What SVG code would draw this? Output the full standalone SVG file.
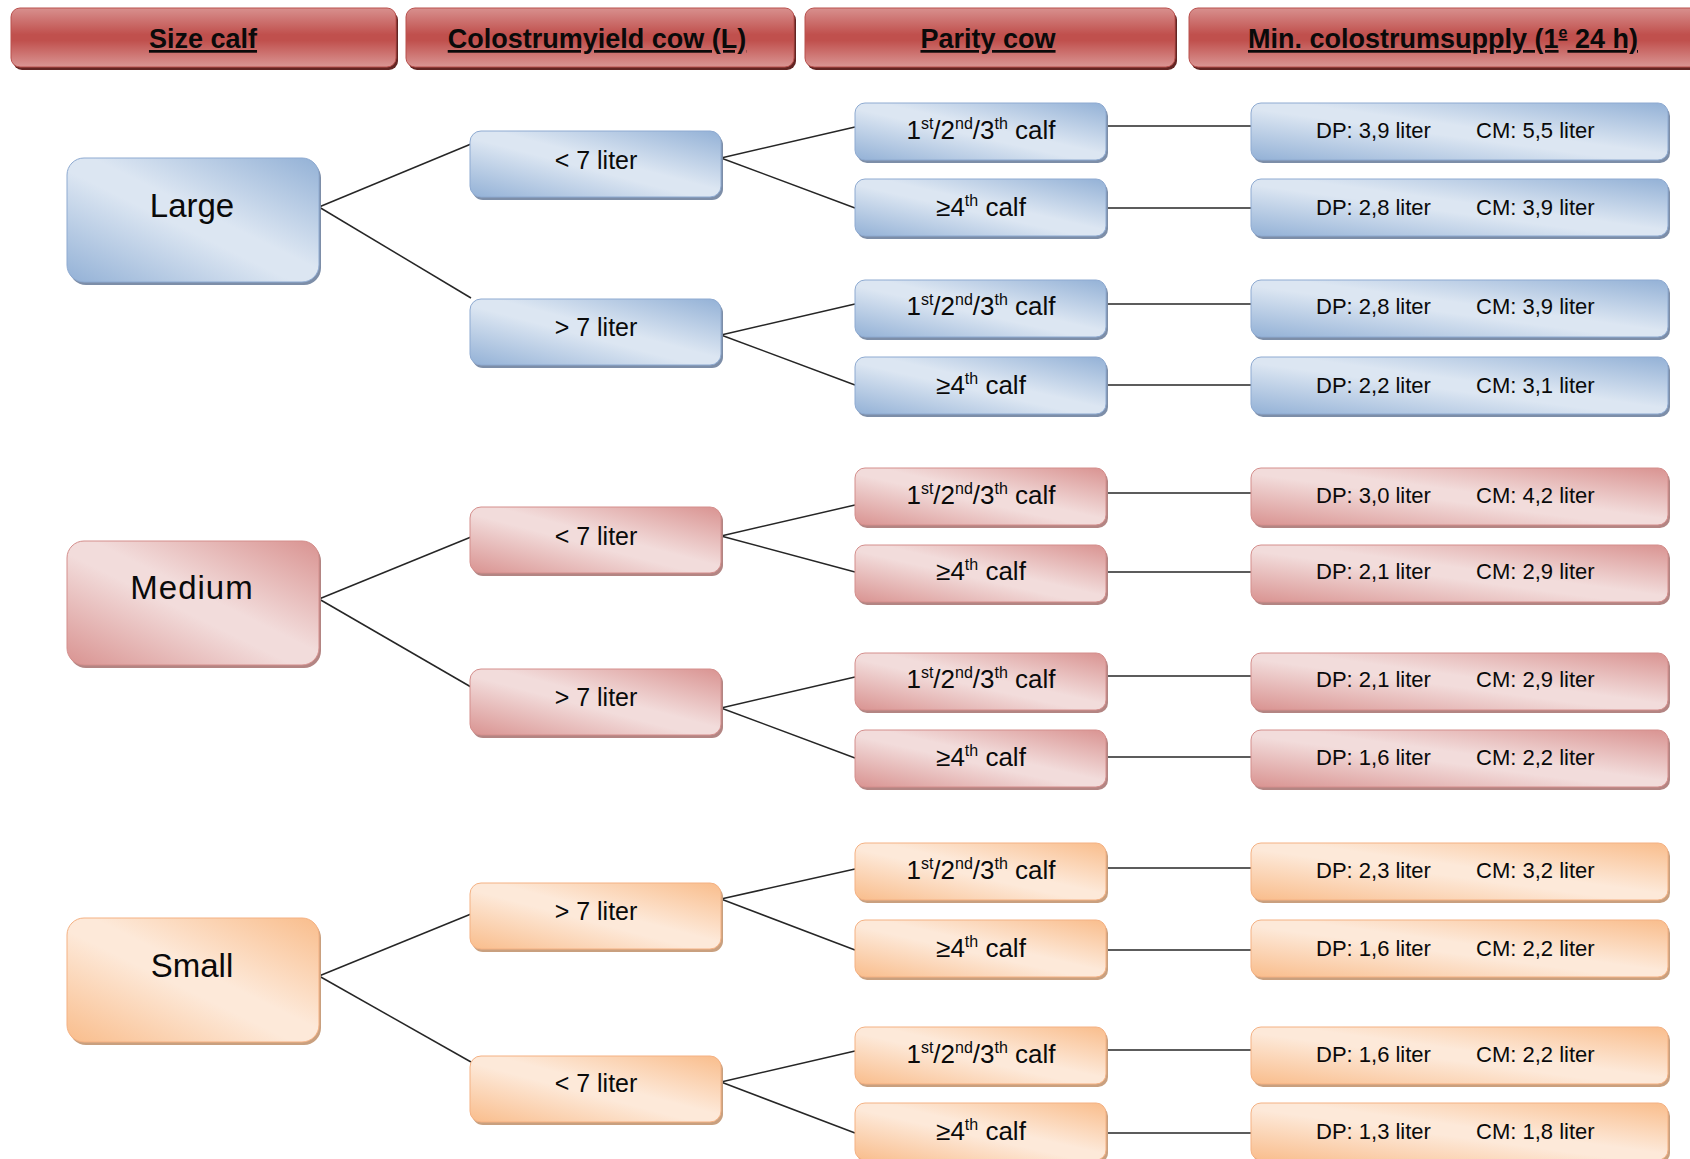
<svg xmlns="http://www.w3.org/2000/svg" width="1690" height="1159" viewBox="0 0 1690 1159">
<defs>
<linearGradient id="gHead" x1="0" y1="0" x2="0" y2="1">
<stop offset="0" stop-color="#d8908e"/><stop offset="0.45" stop-color="#c0504d"/><stop offset="0.55" stop-color="#c0504d"/><stop offset="1" stop-color="#da9694"/>
</linearGradient>
<linearGradient id="gB" x1="1" y1="0" x2="0" y2="1">
<stop offset="0" stop-color="#93b1d6"/><stop offset="0.45" stop-color="#dce6f2"/><stop offset="0.55" stop-color="#dce6f2"/><stop offset="1" stop-color="#93b1d6"/>
</linearGradient>
<linearGradient id="gR" x1="1" y1="0" x2="0" y2="1">
<stop offset="0" stop-color="#d99391"/><stop offset="0.45" stop-color="#f2dcdb"/><stop offset="0.55" stop-color="#f2dcdb"/><stop offset="1" stop-color="#d99391"/>
</linearGradient>
<linearGradient id="gO" x1="1" y1="0" x2="0" y2="1">
<stop offset="0" stop-color="#f9bd8c"/><stop offset="0.45" stop-color="#fde9d9"/><stop offset="0.55" stop-color="#fde9d9"/><stop offset="1" stop-color="#f9bd8c"/>
</linearGradient>
</defs>
<style>
text{font-family:"Liberation Sans",Arial,sans-serif;fill:#0a0a0a}
.h{font-size:27px;font-weight:bold;text-anchor:middle;text-decoration:underline}
.hbox{fill:url(#gHead);stroke:#b9504d;stroke-width:1}
.hsh{fill:#632523}
.b{fill:url(#gB);stroke:#8eaad1;stroke-width:1}
.r{fill:url(#gR);stroke:#d48e8c;stroke-width:1}
.o{fill:url(#gO);stroke:#f4b183;stroke-width:1}
.sb{fill:#7d8ea8}
.sr{fill:#b38583}
.so{fill:#c9a07f}
.t1{font-size:33px;text-anchor:middle}
.t2{font-size:25px;text-anchor:middle}
.t3{font-size:26px;text-anchor:middle}
.t4{font-size:22px}
.sup{font-size:16px}
.c line{stroke:#262626;stroke-width:1.5}
</style>

<g id="headers">
<g id="h1"><rect class="hsh" x="13" y="11" width="385" height="59" rx="9"/><rect class="hbox" x="11" y="8" width="385" height="59" rx="9"/><text class="h" x="203" y="48">Size calf</text></g>
<g id="h2"><rect class="hsh" x="408" y="11" width="388" height="59" rx="9"/><rect class="hbox" x="406" y="8" width="388" height="59" rx="9"/><text class="h" x="597" y="48">Colostrumyield cow (L)</text></g>
<g id="h3"><rect class="hsh" x="807" y="11" width="370" height="59" rx="9"/><rect class="hbox" x="805" y="8" width="370" height="59" rx="9"/><text class="h" x="988" y="48">Parity cow</text></g>
<g id="h4"><rect class="hsh" x="1191" y="11" width="520" height="59" rx="9"/><rect class="hbox" x="1189" y="8" width="520" height="59" rx="9"/><text class="h" x="1443" y="48">Min. colostrumsupply (1<tspan dy="-10" font-size="16">e</tspan><tspan dy="10"> 24 h)</tspan></text></g>
</g>

<g class="c" id="connectors">
<line x1="319" y1="207" x2="471" y2="144"/><line x1="319" y1="207" x2="471" y2="298"/>
<line x1="319" y1="599" x2="471" y2="537"/><line x1="319" y1="599" x2="471" y2="687"/>
<line x1="319" y1="976" x2="471" y2="914"/><line x1="319" y1="976" x2="471" y2="1062"/>
<line x1="721" y1="158" x2="855" y2="127"/><line x1="721" y1="158" x2="855" y2="208"/>
<line x1="721" y1="335" x2="855" y2="304"/><line x1="721" y1="335" x2="855" y2="385"/>
<line x1="721" y1="536" x2="855" y2="505"/><line x1="721" y1="536" x2="855" y2="572"/>
<line x1="721" y1="708" x2="855" y2="677"/><line x1="721" y1="708" x2="855" y2="758"/>
<line x1="721" y1="899" x2="855" y2="869"/><line x1="721" y1="899" x2="855" y2="950"/>
<line x1="721" y1="1082" x2="855" y2="1051"/><line x1="721" y1="1082" x2="855" y2="1133"/>
<line x1="1106" y1="126" x2="1251" y2="126"/><line x1="1106" y1="208" x2="1251" y2="208"/>
<line x1="1106" y1="304" x2="1251" y2="304"/><line x1="1106" y1="385" x2="1251" y2="385"/>
<line x1="1106" y1="493" x2="1251" y2="493"/><line x1="1106" y1="572" x2="1251" y2="572"/>
<line x1="1106" y1="676" x2="1251" y2="676"/><line x1="1106" y1="757" x2="1251" y2="757"/>
<line x1="1106" y1="868" x2="1251" y2="868"/><line x1="1106" y1="950" x2="1251" y2="950"/>
<line x1="1106" y1="1050" x2="1251" y2="1050"/><line x1="1106" y1="1133" x2="1251" y2="1133"/>
</g>

<!-- Level 1 -->
<g id="large"><rect class="sb" x="69" y="161" width="252" height="124" rx="17"/><rect class="b" x="67" y="158" width="252" height="124" rx="17"/><text class="t1" x="192" y="217">Large</text></g>
<g id="medium"><rect class="sr" x="69" y="544" width="252" height="124" rx="17"/><rect class="r" x="67" y="541" width="252" height="124" rx="17"/><text class="t1" x="192" y="599" letter-spacing="1">Medium</text></g>
<g id="small"><rect class="so" x="69" y="921" width="252" height="124" rx="17"/><rect class="o" x="67" y="918" width="252" height="124" rx="17"/><text class="t1" x="192" y="977">Small</text></g>

<!-- Level 2 -->
<g id="large-lt7"><rect class="sb" x="472" y="134" width="251" height="66" rx="11"/><rect class="b" x="470" y="131" width="251" height="66" rx="11"/><text class="t2" x="596" y="169">&lt; 7 liter</text></g>
<g id="large-gt7"><rect class="sb" x="472" y="302" width="251" height="66" rx="11"/><rect class="b" x="470" y="299" width="251" height="66" rx="11"/><text class="t2" x="596" y="336">&gt; 7 liter</text></g>
<g id="medium-lt7"><rect class="sr" x="472" y="510" width="251" height="66" rx="11"/><rect class="r" x="470" y="507" width="251" height="66" rx="11"/><text class="t2" x="596" y="545">&lt; 7 liter</text></g>
<g id="medium-gt7"><rect class="sr" x="472" y="672" width="251" height="66" rx="11"/><rect class="r" x="470" y="669" width="251" height="66" rx="11"/><text class="t2" x="596" y="706">&gt; 7 liter</text></g>
<g id="small-gt7"><rect class="so" x="472" y="886" width="251" height="66" rx="11"/><rect class="o" x="470" y="883" width="251" height="66" rx="11"/><text class="t2" x="596" y="920">&gt; 7 liter</text></g>
<g id="small-lt7"><rect class="so" x="472" y="1059" width="251" height="66" rx="11"/><rect class="o" x="470" y="1056" width="251" height="66" rx="11"/><text class="t2" x="596" y="1092">&lt; 7 liter</text></g>

<!-- Level 3 -->
<g id="p-l1"><rect class="sb" x="857" y="106" width="251" height="57" rx="10"/><rect class="b" x="855" y="103" width="251" height="57" rx="10"/><text class="t3" x="981" y="139">1<tspan class="sup" dy="-10">st</tspan><tspan dy="10">/2</tspan><tspan class="sup" dy="-10">nd</tspan><tspan dy="10">/3</tspan><tspan class="sup" dy="-10">th</tspan><tspan dy="10"> calf</tspan></text></g>
<g id="p-l2"><rect class="sb" x="857" y="182" width="251" height="57" rx="10"/><rect class="b" x="855" y="179" width="251" height="57" rx="10"/><text class="t3" x="981" y="216">≥4<tspan class="sup" dy="-10">th</tspan><tspan dy="10"> calf</tspan></text></g>
<g id="p-l3"><rect class="sb" x="857" y="283" width="251" height="57" rx="10"/><rect class="b" x="855" y="280" width="251" height="57" rx="10"/><text class="t3" x="981" y="315">1<tspan class="sup" dy="-10">st</tspan><tspan dy="10">/2</tspan><tspan class="sup" dy="-10">nd</tspan><tspan dy="10">/3</tspan><tspan class="sup" dy="-10">th</tspan><tspan dy="10"> calf</tspan></text></g>
<g id="p-l4"><rect class="sb" x="857" y="360" width="251" height="57" rx="10"/><rect class="b" x="855" y="357" width="251" height="57" rx="10"/><text class="t3" x="981" y="394">≥4<tspan class="sup" dy="-10">th</tspan><tspan dy="10"> calf</tspan></text></g>
<g id="p-m1"><rect class="sr" x="857" y="471" width="251" height="57" rx="10"/><rect class="r" x="855" y="468" width="251" height="57" rx="10"/><text class="t3" x="981" y="504">1<tspan class="sup" dy="-10">st</tspan><tspan dy="10">/2</tspan><tspan class="sup" dy="-10">nd</tspan><tspan dy="10">/3</tspan><tspan class="sup" dy="-10">th</tspan><tspan dy="10"> calf</tspan></text></g>
<g id="p-m2"><rect class="sr" x="857" y="548" width="251" height="57" rx="10"/><rect class="r" x="855" y="545" width="251" height="57" rx="10"/><text class="t3" x="981" y="580">≥4<tspan class="sup" dy="-10">th</tspan><tspan dy="10"> calf</tspan></text></g>
<g id="p-m3"><rect class="sr" x="857" y="656" width="251" height="57" rx="10"/><rect class="r" x="855" y="653" width="251" height="57" rx="10"/><text class="t3" x="981" y="688">1<tspan class="sup" dy="-10">st</tspan><tspan dy="10">/2</tspan><tspan class="sup" dy="-10">nd</tspan><tspan dy="10">/3</tspan><tspan class="sup" dy="-10">th</tspan><tspan dy="10"> calf</tspan></text></g>
<g id="p-m4"><rect class="sr" x="857" y="733" width="251" height="57" rx="10"/><rect class="r" x="855" y="730" width="251" height="57" rx="10"/><text class="t3" x="981" y="766">≥4<tspan class="sup" dy="-10">th</tspan><tspan dy="10"> calf</tspan></text></g>
<g id="p-s1"><rect class="so" x="857" y="846" width="251" height="57" rx="10"/><rect class="o" x="855" y="843" width="251" height="57" rx="10"/><text class="t3" x="981" y="879">1<tspan class="sup" dy="-10">st</tspan><tspan dy="10">/2</tspan><tspan class="sup" dy="-10">nd</tspan><tspan dy="10">/3</tspan><tspan class="sup" dy="-10">th</tspan><tspan dy="10"> calf</tspan></text></g>
<g id="p-s2"><rect class="so" x="857" y="923" width="251" height="57" rx="10"/><rect class="o" x="855" y="920" width="251" height="57" rx="10"/><text class="t3" x="981" y="957">≥4<tspan class="sup" dy="-10">th</tspan><tspan dy="10"> calf</tspan></text></g>
<g id="p-s3"><rect class="so" x="857" y="1030" width="251" height="57" rx="10"/><rect class="o" x="855" y="1027" width="251" height="57" rx="10"/><text class="t3" x="981" y="1063">1<tspan class="sup" dy="-10">st</tspan><tspan dy="10">/2</tspan><tspan class="sup" dy="-10">nd</tspan><tspan dy="10">/3</tspan><tspan class="sup" dy="-10">th</tspan><tspan dy="10"> calf</tspan></text></g>
<g id="p-s4"><rect class="so" x="857" y="1106" width="251" height="57" rx="10"/><rect class="o" x="855" y="1103" width="251" height="57" rx="10"/><text class="t3" x="981" y="1140">≥4<tspan class="sup" dy="-10">th</tspan><tspan dy="10"> calf</tspan></text></g>

<!-- Level 4 -->
<g id="s-l1"><rect class="sb" x="1253" y="106" width="417" height="57" rx="10"/><rect class="b" x="1251" y="103" width="417" height="57" rx="10"/><text class="t4" x="1316" y="138">DP: 3,9 liter</text><text class="t4" x="1476" y="138">CM: 5,5 liter</text></g>
<g id="s-l2"><rect class="sb" x="1253" y="182" width="417" height="57" rx="10"/><rect class="b" x="1251" y="179" width="417" height="57" rx="10"/><text class="t4" x="1316" y="215">DP: 2,8 liter</text><text class="t4" x="1476" y="215">CM: 3,9 liter</text></g>
<g id="s-l3"><rect class="sb" x="1253" y="283" width="417" height="57" rx="10"/><rect class="b" x="1251" y="280" width="417" height="57" rx="10"/><text class="t4" x="1316" y="314">DP: 2,8 liter</text><text class="t4" x="1476" y="314">CM: 3,9 liter</text></g>
<g id="s-l4"><rect class="sb" x="1253" y="360" width="417" height="57" rx="10"/><rect class="b" x="1251" y="357" width="417" height="57" rx="10"/><text class="t4" x="1316" y="393">DP: 2,2 liter</text><text class="t4" x="1476" y="393">CM: 3,1 liter</text></g>
<g id="s-m1"><rect class="sr" x="1253" y="471" width="417" height="57" rx="10"/><rect class="r" x="1251" y="468" width="417" height="57" rx="10"/><text class="t4" x="1316" y="503">DP: 3,0 liter</text><text class="t4" x="1476" y="503">CM: 4,2 liter</text></g>
<g id="s-m2"><rect class="sr" x="1253" y="548" width="417" height="57" rx="10"/><rect class="r" x="1251" y="545" width="417" height="57" rx="10"/><text class="t4" x="1316" y="579">DP: 2,1 liter</text><text class="t4" x="1476" y="579">CM: 2,9 liter</text></g>
<g id="s-m3"><rect class="sr" x="1253" y="656" width="417" height="57" rx="10"/><rect class="r" x="1251" y="653" width="417" height="57" rx="10"/><text class="t4" x="1316" y="687">DP: 2,1 liter</text><text class="t4" x="1476" y="687">CM: 2,9 liter</text></g>
<g id="s-m4"><rect class="sr" x="1253" y="733" width="417" height="57" rx="10"/><rect class="r" x="1251" y="730" width="417" height="57" rx="10"/><text class="t4" x="1316" y="765">DP: 1,6 liter</text><text class="t4" x="1476" y="765">CM: 2,2 liter</text></g>
<g id="s-s1"><rect class="so" x="1253" y="846" width="417" height="57" rx="10"/><rect class="o" x="1251" y="843" width="417" height="57" rx="10"/><text class="t4" x="1316" y="878">DP: 2,3 liter</text><text class="t4" x="1476" y="878">CM: 3,2 liter</text></g>
<g id="s-s2"><rect class="so" x="1253" y="923" width="417" height="57" rx="10"/><rect class="o" x="1251" y="920" width="417" height="57" rx="10"/><text class="t4" x="1316" y="956">DP: 1,6 liter</text><text class="t4" x="1476" y="956">CM: 2,2 liter</text></g>
<g id="s-s3"><rect class="so" x="1253" y="1030" width="417" height="57" rx="10"/><rect class="o" x="1251" y="1027" width="417" height="57" rx="10"/><text class="t4" x="1316" y="1062">DP: 1,6 liter</text><text class="t4" x="1476" y="1062">CM: 2,2 liter</text></g>
<g id="s-s4"><rect class="so" x="1253" y="1106" width="417" height="57" rx="10"/><rect class="o" x="1251" y="1103" width="417" height="57" rx="10"/><text class="t4" x="1316" y="1139">DP: 1,3 liter</text><text class="t4" x="1476" y="1139">CM: 1,8 liter</text></g>
</svg>
